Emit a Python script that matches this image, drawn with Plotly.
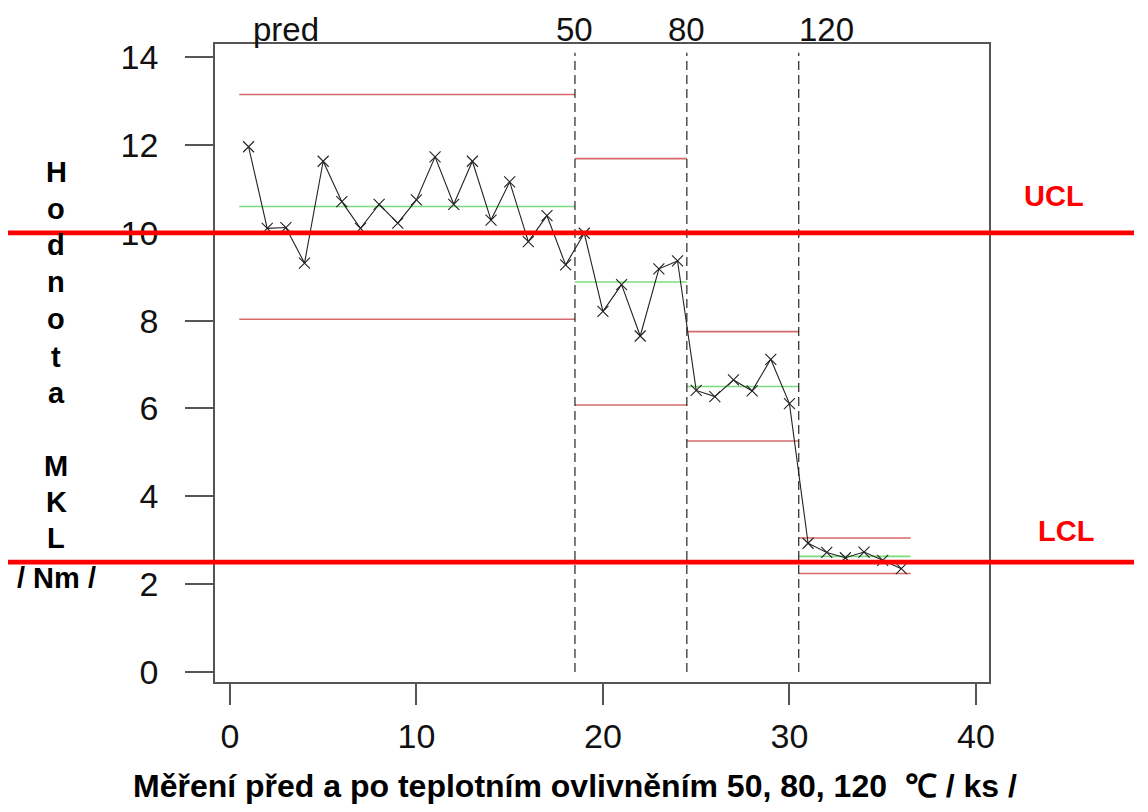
import plotly.graph_objects as go

# ---- data ----
group_names = ["pred", "50", "80", "120"]
values_pred = [11.96, 10.10, 10.12, 9.31, 11.63, 10.71, 10.10, 10.65, 10.22, 10.75,
               11.73, 10.65, 11.63, 10.29, 11.16, 9.80, 10.39, 9.27]
values_50 = [9.99, 8.21, 8.82, 7.65, 9.18, 9.36]
values_80 = [6.41, 6.27, 6.65, 6.40, 7.12, 6.11]
values_120 = [2.93, 2.72, 2.60, 2.73, 2.54, 2.35]
group_centers = [10.60, 8.88, 6.50, 2.63]
group_upper = [13.15, 11.69, 7.75, 3.05]
group_lower = [8.03, 6.08, 5.26, 2.24]
group_bounds = [0.5, 18.5, 24.5, 30.5, 36.5]
label_x = [3.0, 18.5, 24.5, 32.0]
UCL = 10.0
LCL = 2.5
x_ticks = [0, 10, 20, 30, 40]
y_ticks = [0, 2, 4, 6, 8, 10, 12, 14]
ylabel_lines = ["H", "o", "d", "n", "o", "t", "a", "M", "K", "L", "/ Nm /"]
xlabel = "Měření před a po teplotním ovlivněním 50, 80, 120  ℃ / ks /"

all_values = values_pred + values_50 + values_80 + values_120
x_idx = list(range(1, len(all_values) + 1))

FONT = "Liberation Sans, Arial, sans-serif"

# layout geometry (pixels, page has an 8px body margin)
OFF = 8
W, H = 1148 - OFF, 812 - OFF
L, T = 215 - OFF, 44 - OFF
pw, ph = 774, 638
R, B = W - L - pw, H - T - ph
XR = [-0.80, 40.70]
YR = [-0.23, 14.30]

def py_to_paper(py):
    return (812 - 130 - py) / ph

def px_to_paper(px):
    return (px - 215) / pw

fig = go.Figure()

fig.add_trace(go.Scatter(
    x=x_idx, y=all_values, mode="lines+markers",
    line=dict(color="#222", width=1.1),
    marker=dict(symbol="x-thin", size=11, line=dict(color="#222", width=1.1)),
    showlegend=False, hoverinfo="x+y"))

shapes = []
for i in range(4):
    x0, x1 = group_bounds[i], group_bounds[i + 1]
    for val, col in ((group_upper[i], "#d66a6a"), (group_lower[i], "#d66a6a"),
                     (group_centers[i], "#7bdc7b")):
        shapes.append(dict(type="line", xref="x", yref="y", x0=x0, x1=x1,
                           y0=val, y1=val, line=dict(color=col, width=1.6), layer="below"))
for b in group_bounds[1:4]:
    shapes.append(dict(type="line", xref="x", yref="y", x0=b, x1=b, y0=0, y1=14.1,
                       line=dict(color="#111", width=1.1, dash="9px,5px"), layer="below"))
for val in (UCL, LCL):
    shapes.append(dict(type="line", xref="paper", yref="y", x0=px_to_paper(0),
                       x1=px_to_paper(1134), y0=val, y1=val,
                       line=dict(color="#ff0000", width=4.8), layer="above"))

annotations = []
for name, lx in zip(group_names, label_x):
    annotations.append(dict(x=lx, y=py_to_paper(29), xref="x", yref="paper", text=name,
                            showarrow=False, font=dict(family=FONT, size=33, color="#111"),
                            xanchor="center", yanchor="middle"))
ylab_py = [172, 209, 245, 282, 319, 357, 393, 466, 502, 538, 578]
for txt, pyy in zip(ylabel_lines, ylab_py):
    annotations.append(dict(x=px_to_paper(56), y=py_to_paper(pyy), xref="paper", yref="paper",
                            text="<b>%s</b>" % txt, showarrow=False,
                            font=dict(family=FONT, size=29, color="#000"),
                            xanchor="center", yanchor="middle"))
annotations.append(dict(x=px_to_paper(575), y=py_to_paper(786), xref="paper", yref="paper",
                        text="<b>%s</b>" % xlabel, showarrow=False,
                        font=dict(family=FONT, size=32, color="#000"),
                        xanchor="center", yanchor="middle"))
annotations.append(dict(x=px_to_paper(1054), y=py_to_paper(196), xref="paper", yref="paper",
                        text="<b>UCL</b>", showarrow=False,
                        font=dict(family=FONT, size=29, color="#ff0000"),
                        xanchor="center", yanchor="middle"))
annotations.append(dict(x=px_to_paper(1066), y=py_to_paper(531), xref="paper", yref="paper",
                        text="<b>LCL</b>", showarrow=False,
                        font=dict(family=FONT, size=29, color="#ff0000"),
                        xanchor="center", yanchor="middle"))

fig.update_layout(
    width=W, height=H,
    margin=dict(l=L, r=R, t=T, b=B, pad=0),
    paper_bgcolor="white", plot_bgcolor="white",
    shapes=shapes, annotations=annotations,
    showlegend=False,
    xaxis=dict(range=XR, tickvals=x_ticks, ticktext=[str(v) for v in x_ticks],
               showgrid=False, zeroline=False, showline=True, mirror=True,
               linecolor="#555", linewidth=1.5, ticks="outside", ticklen=21,
               tickcolor="#555", tickwidth=1.5, ticklabelstandoff=2,
               tickfont=dict(family=FONT, size=34, color="#111")),
    yaxis=dict(range=YR, tickvals=y_ticks, ticktext=[str(v) for v in y_ticks],
               showgrid=False, zeroline=False, showline=True, mirror=True,
               linecolor="#555", linewidth=1.5, ticks="outside", ticklen=28,
               tickcolor="#555", tickwidth=1.5, ticklabelstandoff=20,
               tickfont=dict(family=FONT, size=34, color="#111")),
)

fig.write_html("out.html")
